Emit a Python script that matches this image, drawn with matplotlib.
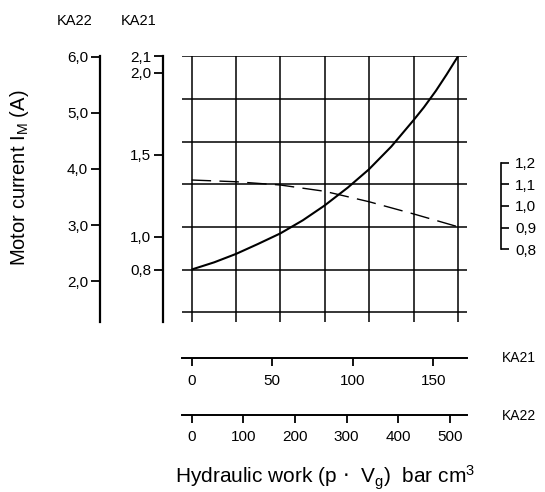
import numpy as np
import matplotlib.pyplot as plt

plt.rcParams['font.family'] = ['Liberation Sans', 'DejaVu Sans']

# solid curve: motor current (KA21 scale) vs hydraulic work (KA21 scale)
work_ka21 = [0, 14, 27.5, 41, 55, 69, 82.5, 97, 110, 124, 138, 144.3, 151.7, 158.4, 165.4]
current_ka21 = [0.80, 0.844, 0.895, 0.955, 1.02, 1.10, 1.19, 1.30, 1.41, 1.55, 1.713,
                1.79, 1.89, 1.99, 2.10]

# dashed curve: right-hand scale
work_dash = [0, 27.5, 55, 82.5, 110, 138, 165.4]
value_dash = [1.12, 1.112, 1.097, 1.068, 1.020, 0.963, 0.904]

ka22_yticks = [2.0, 3.0, 4.0, 5.0, 6.0]
ka22_ylabels = ['2,0', '3,0', '4,0', '5,0', '6,0']
ka21_yticks = [0.8, 1.0, 1.5, 2.0, 2.1]
ka21_ylabels = ['0,8', '1,0', '1,5', '2,0', '2,1']
right_yticks = [0.8, 0.9, 1.0, 1.1, 1.2]
right_ylabels = ['0,8', '0,9', '1,0', '1,1', '1,2']
ka21_xticks = [0, 50, 100, 150]
ka22_xticks = [0, 100, 200, 300, 400, 500]

W, H = 545, 492


def rect(x0, y0, x1, y1):
    return [x0 / W, 1 - y1 / H, (x1 - x0) / W, (y1 - y0) / H]


def bare(ax):
    ax.patch.set_visible(False)
    for s in ax.spines.values():
        s.set_visible(False)


fig = plt.figure(figsize=(5.45, 4.92), dpi=100)
box = rect(182, 56, 467, 322)

# grid + solid line
main = fig.add_axes(box)
bare(main)
main.set_xlim(-6.02, 171.0)
main.set_ylim(0.48, 2.102)
main.set_xticks(np.linspace(0, 165.4, 7))
main.set_yticks(np.linspace(0.54, 2.1, 7))
main.grid(True, color='black', lw=1.1)
main.tick_params(length=0, labelbottom=False, labelleft=False)
main.plot(work_ka21, current_ka21, color='black', lw=1.5, solid_capstyle='butt')

# right scale + dashed line
rax = fig.add_axes(box)
bare(rax)
rax.set_xlim(-6.02, 171.0)
rax.set_ylim(0.4642, 1.6928)
rax.xaxis.set_visible(False)
rax.spines['right'].set_visible(True)
rax.spines['right'].set_position(('axes', (501 - 182) / 285))
rax.spines['right'].set_bounds(0.8, 1.2)
rax.spines['right'].set_linewidth(1.2)
rax.yaxis.tick_right()
rax.set_yticks(right_yticks, right_ylabels)
rax.tick_params(axis='y', length=6, width=1.2, pad=4, labelsize=11)
rax.plot(work_dash, value_dash, color='black', lw=1.0, dashes=(14, 6))

# left scales
for lim, xpos, ticks, labels in [((1.271, 6.0125), 100, ka22_yticks, ka22_ylabels),
                                 ((0.48, 2.102), 163, ka21_yticks, ka21_ylabels)]:
    ax = fig.add_axes(box)
    bare(ax)
    ax.set_ylim(*lim)
    ax.xaxis.set_visible(False)
    ax.spines['left'].set_visible(True)
    ax.spines['left'].set_position(('axes', (xpos - 182) / 285))
    ax.spines['left'].set_linewidth(1.6)
    ax.set_yticks(ticks, labels)
    ax.tick_params(axis='y', length=6.5, width=1.3, pad=2, labelsize=11)

# bottom scales
for y, lim, ticks in [(358.3, (-6.02, 171.0), ka21_xticks),
                      (415, (-18.8, 532.9), ka22_xticks)]:
    ax = fig.add_axes(rect(182, y - 10, 467, y))
    bare(ax)
    ax.set_xlim(*lim)
    ax.yaxis.set_visible(False)
    ax.spines['bottom'].set_visible(True)
    ax.spines['bottom'].set_linewidth(1.4)
    ax.set_xticks(ticks, [str(t) for t in ticks])
    ax.tick_params(axis='x', length=6, width=1.3, pad=5, labelsize=11)

fig.text(75 / W, 1 - 21 / H, 'KA22', ha='center', va='center', fontsize=10.5)
fig.text(139 / W, 1 - 21 / H, 'KA21', ha='center', va='center', fontsize=10.5)
fig.text(502 / W, 1 - 358 / H, 'KA21', ha='left', va='center', fontsize=10)
fig.text(502 / W, 1 - 415.5 / H, 'KA22', ha='left', va='center', fontsize=10)
fig.text(20 / W, 1 - 177.5 / H, r'Motor current I$\mathregular{_M}$ (A)', rotation=90,
         ha='center', va='center', fontsize=14.5)
fig.text(325 / W, 1 - 483.5 / H, r'Hydraulic work (p $\cdot$  V$\mathregular{_g}$)  bar cm$\mathregular{^3}$',
         ha='center', va='baseline', fontsize=15)

fig.savefig('out.png', dpi=100)
